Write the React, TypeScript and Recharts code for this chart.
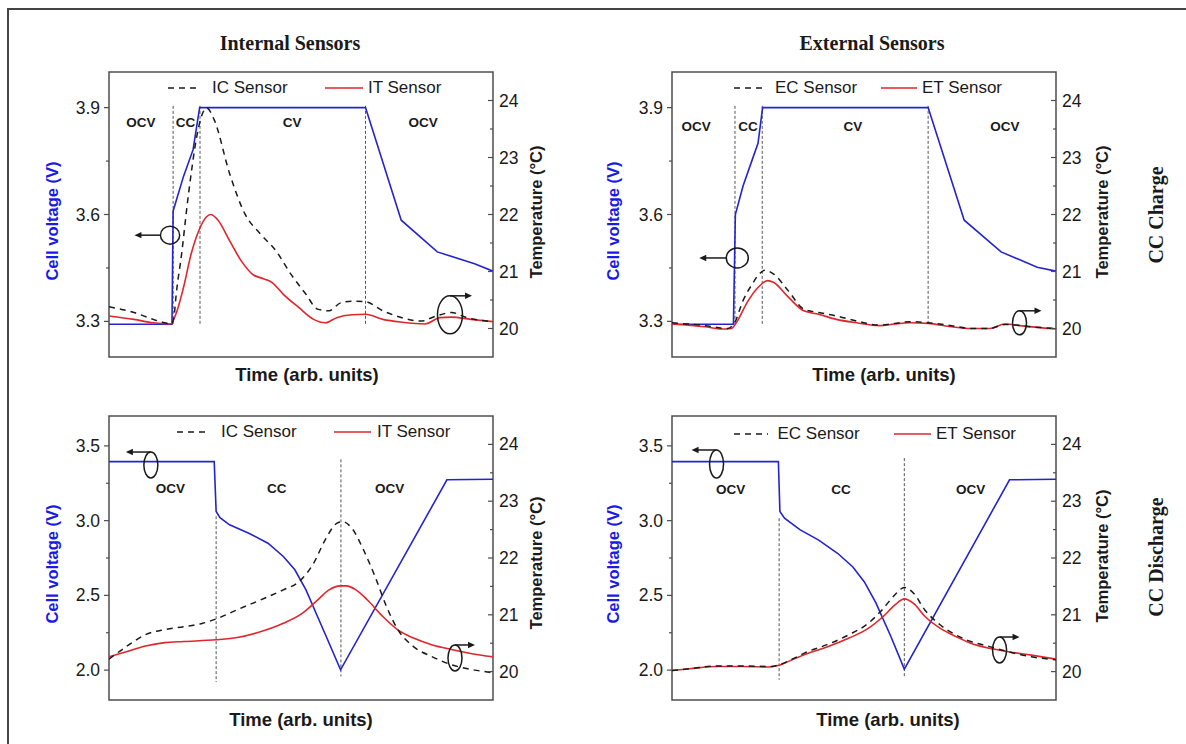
import React from 'react';
import { LineChart, Line, XAxis, YAxis, ReferenceLine, ReferenceArea, ReferenceDot } from 'recharts';

const SANS = '"Liberation Sans", Arial, sans-serif';
const SERIF = '"Liberation Serif", "Times New Roman", serif';
const BLUE = '#2424cf';
const RED = '#e0262b';
const DARK = '#1a1a1a';
const FRAME = '#4d4d4d';

// ---- CC charge, internal sensors ----
const intChargeVoltX = [0, 16.4, 16.7, 19.4, 21.9, 23.6, 66.8, 76.1, 85.5, 95.2, 100];
const intChargeVolt = [3.292, 3.292, 3.61, 3.707, 3.782, 3.9, 3.9, 3.584, 3.495, 3.462, 3.441];
const icChargeX = [0, 6.5, 11.5, 14.5, 16.3, 17.0, 17.5, 18.9, 20.4, 21.4, 22.4, 23.4, 24.4, 25.4, 27.4, 31.4, 35.4, 39.4, 43.4, 47.4, 51.3, 54.3, 57.3, 60.3, 63.3, 66.8, 71.3, 76.3, 81.3, 85.2, 89.2, 93.2, 100];
const icChargeT = [20.38, 20.28, 20.16, 20.1, 20.08, 20.25, 20.6, 21.3, 22.19, 22.72, 23.19, 23.55, 23.78, 23.87, 23.66, 22.72, 22.01, 21.66, 21.37, 20.95, 20.6, 20.34, 20.31, 20.45, 20.48, 20.47, 20.31, 20.19, 20.13, 20.22, 20.28, 20.19, 20.12];
const itChargeX = [0, 6.5, 11.5, 16.0, 17.4, 19.4, 21.4, 23.4, 25.4, 26.4, 28.4, 31.4, 34.4, 37.4, 40.4, 42.4, 45.4, 49.4, 53.3, 56.3, 59.3, 63.3, 66.8, 71.3, 76.3, 82.3, 86.2, 89.2, 94.2, 100];
const itChargeT = [20.22, 20.16, 20.1, 20.08, 20.25, 20.72, 21.31, 21.72, 21.96, 22.0, 21.9, 21.54, 21.19, 20.95, 20.87, 20.81, 20.6, 20.37, 20.16, 20.1, 20.19, 20.24, 20.25, 20.16, 20.11, 20.08, 20.19, 20.2, 20.16, 20.12];

// ---- CC charge, external sensors ----
const extChargeVoltX = [0, 16.0, 16.5, 18.5, 20.9, 22.4, 23.6, 66.7, 76.1, 85.7, 95.1, 100];
const extChargeVolt = [3.292, 3.292, 3.6, 3.68, 3.754, 3.8, 3.9, 3.9, 3.584, 3.495, 3.452, 3.441];
const ecChargeX = [0, 8.6, 14.5, 16.3, 18.5, 20.9, 22.9, 24.2, 26.4, 30.3, 34.3, 38.2, 42.8, 48.1, 54.1, 58.0, 62.0, 66.7, 72.8, 77.8, 82.7, 86.7, 89.6, 93.6, 100];
const ecChargeT = [20.1, 20.05, 20.0, 20.1, 20.49, 20.78, 20.97, 21.02, 20.96, 20.66, 20.34, 20.28, 20.22, 20.13, 20.06, 20.09, 20.12, 20.1, 20.05, 20.0, 20.0, 20.07, 20.06, 20.03, 20.0];
const etChargeX = [0, 8.6, 13.0, 15.5, 17.0, 19.5, 22.4, 24.9, 26.4, 30.3, 34.3, 38.2, 42.8, 48.1, 54.1, 58.0, 62.0, 66.7, 72.8, 77.8, 82.7, 86.7, 90.6, 100];
const etChargeT = [20.08, 20.03, 19.99, 20.0, 20.13, 20.45, 20.72, 20.84, 20.81, 20.55, 20.31, 20.25, 20.16, 20.1, 20.05, 20.08, 20.1, 20.09, 20.03, 20.0, 20.0, 20.08, 20.05, 19.99];

// ---- CC discharge, internal sensors ----
const intDisVoltX = [0, 27.4, 27.9, 28.9, 31.4, 36.4, 41.4, 45.4, 48.4, 51.3, 54.3, 57.3, 60.3, 88.0, 100];
const intDisVolt = [3.395, 3.395, 3.061, 3.02, 2.972, 2.916, 2.849, 2.76, 2.671, 2.537, 2.359, 2.181, 2.002, 3.273, 3.277];
const icDisX = [0, 4.5, 9.5, 14.5, 19.4, 24.4, 28.4, 33.4, 39.4, 45.4, 49.4, 53.3, 56.3, 59.3, 60.8, 63.3, 66.3, 69.3, 72.3, 75.3, 79.3, 84.2, 89.2, 94.2, 100];
const icDisT = [20.22, 20.44, 20.65, 20.74, 20.79, 20.85, 20.94, 21.09, 21.26, 21.44, 21.58, 21.91, 22.32, 22.61, 22.64, 22.52, 22.14, 21.67, 21.14, 20.73, 20.44, 20.26, 20.12, 20.04, 19.98];
const itDisX = [0, 4.5, 9.5, 14.5, 19.4, 27.9, 33.4, 39.4, 45.4, 50.4, 54.3, 57.3, 60.3, 61.8, 64.3, 67.3, 71.3, 75.3, 79.3, 84.2, 89.2, 94.2, 100];
const itDisT = [20.26, 20.35, 20.45, 20.51, 20.53, 20.56, 20.6, 20.7, 20.85, 21.03, 21.26, 21.44, 21.51, 21.51, 21.44, 21.26, 20.97, 20.73, 20.59, 20.47, 20.39, 20.32, 20.26];

// ---- CC discharge, external sensors ----
const extDisVoltX = [0, 27.7, 28.1, 29.3, 33.3, 38.2, 43.2, 47.1, 50.1, 53.1, 57.0, 60.5, 87.9, 100];
const extDisVolt = [3.395, 3.395, 3.061, 3.016, 2.94, 2.87, 2.78, 2.69, 2.59, 2.45, 2.225, 2.007, 3.273, 3.277];
const extDisTX = [0, 4.6, 11.6, 18.5, 25.4, 27.9, 31.3, 35.3, 40.2, 46.1, 51.1, 55.0, 58.0, 60.5, 62.9, 65.9, 69.9, 73.8, 77.8, 82.7, 87.6, 93.6, 100];
const ecDisT = [20.02, 20.05, 20.1, 20.1, 20.09, 20.12, 20.22, 20.35, 20.47, 20.65, 20.85, 21.11, 21.35, 21.48, 21.38, 21.08, 20.82, 20.65, 20.53, 20.44, 20.35, 20.26, 20.21];
const etDisT = [20.02, 20.05, 20.09, 20.09, 20.08, 20.11, 20.21, 20.32, 20.43, 20.59, 20.76, 20.97, 21.17, 21.28, 21.2, 20.97, 20.76, 20.62, 20.5, 20.41, 20.35, 20.29, 20.22];

// axis ticks
const chargeVoltTicks = [3.3, 3.45, 3.6, 3.75, 3.9];
const disVoltTicks = [2.0, 2.25, 2.5, 2.75, 3.0, 3.25, 3.5];
const tempTicks = [20, 20.5, 21, 21.5, 22, 22.5, 23, 23.5, 24];

type Pt = { x: number; y: number };
const zip = (xs: number[], ys: number[]): Pt[] => xs.map((x, i) => ({ x, y: ys[i] }));

const makeTick = (side: 'left' | 'right', step: number, digits: number) => (props: any) => {
  const { x, y, payload } = props;
  const v = payload.value as number;
  const major = Math.abs(v / step - Math.round(v / step)) < 1e-6;
  const len = major ? 5 : 3;
  return (
    <g>
      <line x1={x - len} x2={x} y1={y} y2={y} stroke={FRAME} strokeWidth={1.2} />
      {major && (
        <text
          x={side === 'left' ? x - 9 : x + 6}
          y={y}
          textAnchor={side === 'left' ? 'end' : 'start'}
          dominantBaseline="central"
          fontFamily={SANS}
          fontSize={17.5}
          fill={DARK}
        >
          {v.toFixed(digits)}
        </text>
      )}
    </g>
  );
};

type Mark = { x: number; y: number; axis: 'v' | 't'; rx: number; ry: number; dir: number; len: number; top: boolean };
type Divider = { x: number; y1: number; y2: number };
type Phase = { x: number; y: number; text: string };

const markShape = (m: Mark) => (props: any) => {
  const { cx, cy } = props;
  const sx = m.top ? cx : cx + m.dir * m.rx;
  const sy = m.top ? cy - m.ry : cy;
  const tip = sx + m.dir * m.len;
  return (
    <g>
      <ellipse cx={cx} cy={cy} rx={m.rx} ry={m.ry} fill="none" stroke={DARK} strokeWidth={1.5} />
      <line x1={sx} y1={sy} x2={tip - m.dir * 5} y2={sy} stroke={DARK} strokeWidth={1.5} />
      <polygon points={`${tip},${sy} ${tip - m.dir * 7},${sy - 3.2} ${tip - m.dir * 7},${sy + 3.2}`} fill={DARK} />
    </g>
  );
};

// phase names are set in small capitals in the reference
const phaseShape = (text: string) => (props: any) => (
  <text
    x={props.cx}
    y={props.cy}
    textAnchor="middle"
    dominantBaseline="central"
    fontFamily={SANS}
    fontWeight="bold"
    fontSize={13.5}
    fill={DARK}
  >
    {text}
  </text>
);

type PanelProps = {
  left: number;
  top: number;
  h: number;
  vDomain: [number, number];
  vTicks: number[];
  vStep: number;
  volt: Pt[];
  cSeries: Pt[];
  tSeries: Pt[];
  dividers: Divider[];
  phases: Phase[];
  marks: Mark[];
};

function Panel(p: PanelProps) {
  const W = 384;
  return (
    <div style={{ position: 'absolute', left: p.left - 60, top: p.top - 20 }}>
      <LineChart width={W + 120} height={p.h + 30} margin={{ top: 20, right: 0, bottom: 10, left: 0 }}>
        <XAxis type="number" dataKey="x" domain={[0, 100]} hide allowDataOverflow />
        <YAxis
          yAxisId="v"
          orientation="left"
          type="number"
          width={60}
          domain={p.vDomain}
          ticks={p.vTicks}
          interval={0}
          allowDataOverflow
          axisLine={false}
          tickLine={false}
          tickSize={0}
          tickMargin={0}
          tick={makeTick('left', p.vStep, 1)}
        />
        <YAxis
          yAxisId="t"
          orientation="right"
          type="number"
          width={60}
          domain={[19.5, 24.5]}
          ticks={tempTicks}
          interval={0}
          allowDataOverflow
          axisLine={false}
          tickLine={false}
          tickSize={0}
          tickMargin={0}
          tick={makeTick('right', 1, 0)}
        />
        <ReferenceArea
          yAxisId="v"
          x1={0}
          x2={100}
          y1={p.vDomain[0]}
          y2={p.vDomain[1]}
          fill="none"
          stroke={FRAME}
          strokeWidth={1.5}
          ifOverflow="visible"
        />
        {p.dividers.map((d, i) => (
          <ReferenceLine
            key={'d' + i}
            yAxisId="v"
            segment={[{ x: d.x, y: d.y1 }, { x: d.x, y: d.y2 }]}
            stroke="#555"
            strokeWidth={1}
            strokeDasharray="3 2"
          />
        ))}
        <Line yAxisId="v" data={p.volt} dataKey="y" type="linear" stroke={BLUE} strokeWidth={1.6} dot={false} isAnimationActive={false} />
        <Line yAxisId="t" data={p.tSeries} dataKey="y" type="monotone" stroke={RED} strokeWidth={1.6} dot={false} isAnimationActive={false} />
        <Line yAxisId="t" data={p.cSeries} dataKey="y" type="monotone" stroke={DARK} strokeWidth={1.5} strokeDasharray="6 5" dot={false} isAnimationActive={false} />
        {p.phases.map((ph, i) => (
          <ReferenceDot key={'p' + i} yAxisId="v" x={ph.x} y={ph.y} r={0} shape={phaseShape(ph.text)} />
        ))}
        {p.marks.map((m, i) => (
          <ReferenceDot key={'m' + i} yAxisId={m.axis} x={m.x} y={m.y} r={0} shape={markShape(m)} ifOverflow="visible" />
        ))}
      </LineChart>
    </div>
  );
}

const Txt = ({ x, y, children, rotate, style }: { x: number; y: number; children: React.ReactNode; rotate?: boolean; style: React.CSSProperties }) => (
  <div
    style={{
      position: 'absolute',
      left: x,
      top: y,
      transform: `translate(-50%, -50%)${rotate ? ' rotate(-90deg)' : ''}`,
      whiteSpace: 'nowrap',
      lineHeight: 1,
      ...style,
    }}
  >
    {children}
  </div>
);

const LegendItem = ({ x1, x2, tx, y, dashed, text }: { x1: number; x2: number; tx: number; y: number; dashed: boolean; text: string }) => (
  <>
    <svg style={{ position: 'absolute', left: x1, top: y - 3 }} width={x2 - x1} height={6}>
      <line
        x1={0}
        x2={x2 - x1}
        y1={3}
        y2={3}
        stroke={dashed ? DARK : RED}
        strokeWidth={1.6}
        strokeDasharray={dashed ? '6 5' : undefined}
      />
    </svg>
    <div
      style={{
        position: 'absolute',
        left: tx,
        top: y - 10,
        height: 20,
        lineHeight: '20px',
        fontFamily: SANS,
        fontSize: 17,
        color: DARK,
        whiteSpace: 'nowrap',
      }}
    >
      {text}
    </div>
  </>
);

const voltLabel: React.CSSProperties = { fontFamily: SANS, fontWeight: 'bold', fontSize: 16.5, color: '#1a1ae6' };
const tempLabel: React.CSSProperties = { fontFamily: SANS, fontWeight: 'bold', fontSize: 16.5, color: DARK };
const timeLabel: React.CSSProperties = { fontFamily: SANS, fontWeight: 'bold', fontSize: 18.5, color: DARK };
const serifLabel: React.CSSProperties = { fontFamily: SERIF, fontWeight: 'bold', fontSize: 20, color: DARK };

export default function App() {
  return (
    <div style={{ position: 'absolute', left: 0, top: 0, width: 1186, height: 744, overflow: 'hidden', background: '#fff' }}>
      <div style={{ position: 'absolute', left: 7, top: 8, width: 1300, height: 900, borderLeft: '2px solid #444', borderTop: '2px solid #444' }} />

      <Txt x={290} y={43} style={serifLabel}>Internal Sensors</Txt>
      <Txt x={872} y={43} style={serifLabel}>External Sensors</Txt>
      <Txt x={1156} y={215} rotate style={serifLabel}>CC Charge</Txt>
      <Txt x={1156} y={557} rotate style={serifLabel}>CC Discharge</Txt>

      <Panel
        left={109}
        top={72}
        h={285}
        vDomain={[3.2, 4.0]}
        vTicks={chargeVoltTicks}
        vStep={0.3}
        volt={zip(intChargeVoltX, intChargeVolt)}
        cSeries={zip(icChargeX, icChargeT)}
        tSeries={zip(itChargeX, itChargeT)}
        dividers={[
          { x: 16.7, y1: 3.905, y2: 3.288 },
          { x: 23.7, y1: 3.905, y2: 3.288 },
          { x: 66.8, y1: 3.905, y2: 3.288 },
        ]}
        phases={[
          { x: 8.3, y: 3.857, text: 'OCV' },
          { x: 19.9, y: 3.857, text: 'CC' },
          { x: 47.7, y: 3.857, text: 'CV' },
          { x: 81.8, y: 3.857, text: 'OCV' },
        ]}
        marks={[
          { x: 15.9, y: 3.542, axis: 'v', rx: 9.6, ry: 9, dir: -1, len: 26, top: false },
          { x: 88.8, y: 20.24, axis: 't', rx: 12.5, ry: 19, dir: 1, len: 22, top: true },
        ]}
      />
      <Panel
        left={671.5}
        top={72}
        h={285}
        vDomain={[3.2, 4.0]}
        vTicks={chargeVoltTicks}
        vStep={0.3}
        volt={zip(extChargeVoltX, extChargeVolt)}
        cSeries={zip(ecChargeX, ecChargeT)}
        tSeries={zip(etChargeX, etChargeT)}
        dividers={[
          { x: 16.4, y1: 3.905, y2: 3.288 },
          { x: 23.5, y1: 3.905, y2: 3.288 },
          { x: 66.7, y1: 3.905, y2: 3.288 },
        ]}
        phases={[
          { x: 6.3, y: 3.848, text: 'OCV' },
          { x: 19.8, y: 3.848, text: 'CC' },
          { x: 47.1, y: 3.848, text: 'CV' },
          { x: 86.7, y: 3.848, text: 'OCV' },
        ]}
        marks={[
          { x: 17.0, y: 3.478, axis: 'v', rx: 11, ry: 10, dir: -1, len: 27, top: false },
          { x: 90.5, y: 20.1, axis: 't', rx: 7, ry: 12, dir: 1, len: 22, top: true },
        ]}
      />
      <Panel
        left={109}
        top={416}
        h={284}
        vDomain={[1.8, 3.7]}
        vTicks={disVoltTicks}
        vStep={0.5}
        volt={zip(intDisVoltX, intDisVolt)}
        cSeries={zip(icDisX, icDisT)}
        tSeries={zip(itDisX, itDisT)}
        dividers={[
          { x: 27.9, y1: 3.03, y2: 1.92 },
          { x: 60.4, y1: 3.41, y2: 1.958 },
        ]}
        phases={[
          { x: 16.0, y: 3.216, text: 'OCV' },
          { x: 43.7, y: 3.216, text: 'CC' },
          { x: 73.1, y: 3.216, text: 'OCV' },
        ]}
        marks={[
          { x: 10.9, y: 3.372, axis: 'v', rx: 7, ry: 13, dir: -1, len: 25, top: true },
          { x: 90.1, y: 20.24, axis: 't', rx: 7, ry: 13, dir: 1, len: 20, top: true },
        ]}
      />
      <Panel
        left={671.5}
        top={416}
        h={284}
        vDomain={[1.8, 3.7]}
        vTicks={disVoltTicks}
        vStep={0.5}
        volt={zip(extDisVoltX, extDisVolt)}
        cSeries={zip(extDisTX, ecDisT)}
        tSeries={zip(extDisTX, etDisT)}
        dividers={[
          { x: 27.9, y1: 3.016, y2: 1.935 },
          { x: 60.5, y1: 3.418, y2: 1.947 },
        ]}
        phases={[
          { x: 15.3, y: 3.205, text: 'OCV' },
          { x: 44.0, y: 3.205, text: 'CC' },
          { x: 77.8, y: 3.205, text: 'OCV' },
        ]}
        marks={[
          { x: 11.6, y: 3.379, axis: 'v', rx: 7, ry: 14, dir: -1, len: 25, top: true },
          { x: 85.3, y: 20.38, axis: 't', rx: 7, ry: 13, dir: 1, len: 20, top: true },
        ]}
      />

      <LegendItem x1={168} x2={197} tx={212} y={88} dashed text="IC Sensor" />
      <LegendItem x1={325} x2={363} tx={368} y={88} dashed={false} text="IT Sensor" />
      <LegendItem x1={733.5} x2={767} tx={775} y={88} dashed text="EC Sensor" />
      <LegendItem x1={881} x2={917} tx={922} y={88} dashed={false} text="ET Sensor" />
      <LegendItem x1={177} x2={210} tx={221} y={432} dashed text="IC Sensor" />
      <LegendItem x1={334} x2={371} tx={377} y={432} dashed={false} text="IT Sensor" />
      <LegendItem x1={733.5} x2={768} tx={777.5} y={434} dashed text="EC Sensor" />
      <LegendItem x1={893.5} x2={930.5} tx={936} y={434} dashed={false} text="ET Sensor" />

      <Txt x={52} y={221} rotate style={voltLabel}>Cell voltage (V)</Txt>
      <Txt x={613} y={221} rotate style={voltLabel}>Cell voltage (V)</Txt>
      <Txt x={52} y={564} rotate style={voltLabel}>Cell voltage (V)</Txt>
      <Txt x={613} y={564} rotate style={voltLabel}>Cell voltage (V)</Txt>

      <Txt x={536} y={212} rotate style={tempLabel}>Temperature (°C)</Txt>
      <Txt x={1102} y={212} rotate style={tempLabel}>Temperature (°C)</Txt>
      <Txt x={536} y={563} rotate style={tempLabel}>Temperature (°C)</Txt>
      <Txt x={1102} y={556} rotate style={tempLabel}>Temperature (°C)</Txt>

      <Txt x={307} y={375} style={timeLabel}>Time (arb. units)</Txt>
      <Txt x={884} y={375} style={timeLabel}>Time (arb. units)</Txt>
      <Txt x={301} y={720} style={timeLabel}>Time (arb. units)</Txt>
      <Txt x={888} y={720} style={timeLabel}>Time (arb. units)</Txt>
    </div>
  );
}
